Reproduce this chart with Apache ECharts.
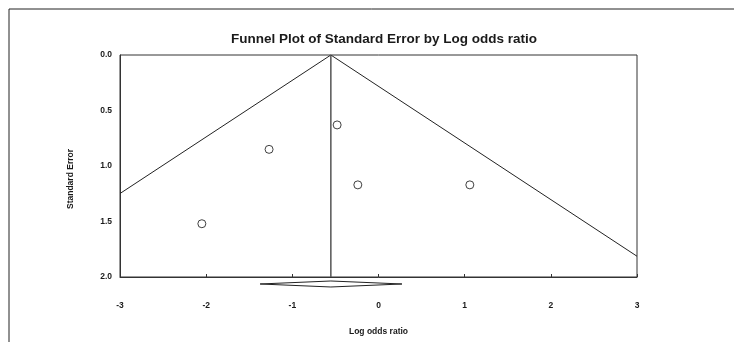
<!DOCTYPE html>
<html>
<head>
<meta charset="utf-8">
<script src="https://cdn.jsdelivr.net/npm/echarts@6/dist/echarts.min.js"></script>
<style>
  html, body { margin: 0; padding: 0; background: #fff; }
  #chart { width: 734px; height: 342px; }
</style>
</head>
<body>
<div id="chart"></div>
<script>
// study points
const studyLogOR = [-2.05, -1.27, -0.48, -0.24, 1.06];
const studySE = [1.52, 0.85, 0.63, 1.17, 1.17];

// pooled estimate and its interval (diamond under the axis)
const pooledLogOR = -0.553;
const pooledLower = -1.374;
const pooledUpper = 0.272;

// funnel edges, where the 95% lines leave the plot
const funnelLeft = [-3, 1.248];
const funnelRight = [3, 1.813];

const xTicks = [-3, -2, -1, 0, 1, 2, 3];
const yTicks = [0, 0.5, 1, 1.5, 2];

const chart = echarts.init(document.getElementById('chart'));

const font = 'Liberation Sans, Arial, sans-serif';
const ink = '#1a1a1a';

// diamond sits just below the x axis (SE > 2)
const diamondY = 2.063;
const diamondHalf = 0.027;

const option = {
  animation: false,
  backgroundColor: '#fff',
  title: {
    text: 'Funnel Plot of Standard Error by Log odds ratio',
    left: 379,
    top: 27,
    textAlign: 'center',
    textStyle: { fontFamily: font, fontWeight: 'bold', fontSize: 13.5, color: ink }
  },
  grid: {
    left: 120,
    right: 97,
    top: 55,
    bottom: 65,
    show: true,
    borderColor: '#333',
    borderWidth: 1
  },
  xAxis: {
    type: 'value',
    min: xTicks[0],
    max: xTicks[xTicks.length - 1],
    interval: 1,
    name: 'Log odds ratio',
    nameLocation: 'middle',
    nameGap: 50,
    nameTextStyle: { fontFamily: font, fontWeight: 'bold', fontSize: 8.5, color: ink },
    axisLine: { show: true, onZero: false, lineStyle: { color: '#333' } },
    axisTick: { show: true, length: 3, inside: true, lineStyle: { color: '#333' } },
    splitLine: { show: false },
    axisLabel: {
      margin: 24,
      fontFamily: font, fontWeight: 'bold', fontSize: 8.5, color: ink
    }
  },
  yAxis: {
    type: 'value',
    inverse: true,
    min: yTicks[0],
    max: yTicks[yTicks.length - 1],
    interval: 0.5,
    axisLine: { show: true, onZero: false, lineStyle: { color: '#333' } },
    axisTick: { show: false },
    splitLine: { show: false },
    axisLabel: {
      margin: 8,
      formatter: v => v.toFixed(1),
      fontFamily: font, fontWeight: 'bold', fontSize: 8.5, color: ink
    }
  },
  graphic: [
    {
      type: 'polyline',
      shape: { points: [[734, 9], [9, 9], [9, 342]] },
      style: { stroke: '#222', lineWidth: 1, fill: null },
      silent: true
    },
    {
      type: 'text',
      x: 71,
      y: 179,
      rotation: Math.PI / 2,
      style: {
        text: 'Standard Error',
        fill: ink,
        font: 'bold 8.5px ' + font,
        align: 'center',
        verticalAlign: 'middle'
      }
    }
  ],
  series: [
    {
      name: 'Funnel',
      type: 'line',
      symbol: 'none',
      lineStyle: { color: '#222', width: 1 },
      data: [funnelLeft, [pooledLogOR, 0], funnelRight],
      z: 2
    },
    {
      name: 'Pooled',
      type: 'line',
      symbol: 'none',
      lineStyle: { color: '#555', width: 1.5 },
      data: [[pooledLogOR, 0], [pooledLogOR, 2]],
      z: 2
    },
    {
      name: 'Studies',
      type: 'scatter',
      symbol: 'circle',
      symbolSize: 8,
      itemStyle: { color: '#fff', borderColor: '#111', borderWidth: 1 },
      data: studyLogOR.map((x, i) => [x, studySE[i]]),
      z: 3
    },
    {
      name: 'Diamond',
      type: 'custom',
      clip: false,
      data: [[pooledLower, pooledLogOR, pooledUpper]],
      renderItem: (params, api) => {
        const lo = api.value(0);
        const mid = api.value(1);
        const hi = api.value(2);
        const pts = [
          api.coord([lo, diamondY]),
          api.coord([mid, diamondY - diamondHalf]),
          api.coord([hi, diamondY]),
          api.coord([mid, diamondY + diamondHalf])
        ];
        return {
          type: 'polygon',
          shape: { points: pts },
          style: { fill: '#fff', stroke: '#222', lineWidth: 1 }
        };
      },
      z: 3
    }
  ]
};

chart.setOption(option);
</script>
</body>
</html>
